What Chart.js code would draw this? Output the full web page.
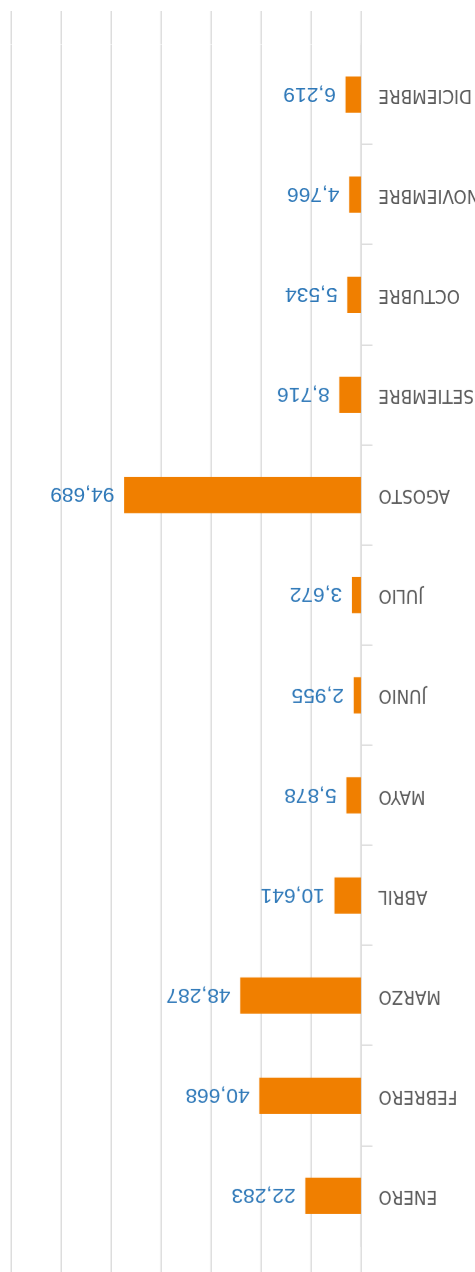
<!DOCTYPE html>
<html lang="es">
<head>
<meta charset="utf-8">
<title>Ventas mensuales</title>
<script src="https://cdn.jsdelivr.net/npm/chart.js@4/dist/chart.umd.min.js"></script>
<style>
  html, body { margin: 0; padding: 0; background: #ffffff; }
  #wrap {
    width: 475px;
    height: 1272px;
    transform: rotate(180deg);
    transform-origin: 50% 50%;
  }
  canvas { display: block; }
</style>
</head>
<body>
<div id="wrap"><canvas id="chart" width="475" height="1272"></canvas></div>
<script>
// Months shown on the category axis
const meses = ['ENERO', 'FEBRERO', 'MARZO', 'ABRIL', 'MAYO', 'JUNIO',
               'JULIO', 'AGOSTO', 'SETIEMBRE', 'OCTUBRE', 'NOVIEMBRE', 'DICIEMBRE'];
// Monthly totals
const valores = [22283, 40668, 48287, 10641, 5878, 2955,
                 3672, 94689, 8716, 5534, 4766, 6219];
// Value axis range and gridline step
const ejeMin = 0;
const ejeMax = 140000;
const ejePaso = 20000;

const GRID = '#dddddd';
const BAR = '#f07f00';
const LABEL_GRAY = '#595959';
const VALUE_BLUE = '#2e78b8';
const CAT_FONT = '"Liberation Sans Narrow", "Arial Narrow", "DejaVu Sans Condensed", sans-serif';
const VAL_FONT = '"Liberation Sans", Arial, sans-serif';

const fmt = v => v.toLocaleString('en-US');

// Writes each bar's value just past its end
const valueLabels = {
  id: 'valueLabels',
  afterDatasetsDraw(chart) {
    const { ctx } = chart;
    const meta = chart.getDatasetMeta(0);
    const data = chart.data.datasets[0].data;
    ctx.save();
    ctx.font = '21px ' + VAL_FONT;
    ctx.fillStyle = VALUE_BLUE;
    ctx.textAlign = 'left';
    ctx.textBaseline = 'middle';
    meta.data.forEach((bar, i) => {
      ctx.fillText(fmt(data[i]), bar.x + 10, bar.y + 1);
    });
    ctx.restore();
  }
};

new Chart(document.getElementById('chart'), {
  type: 'bar',
  data: {
    labels: meses,
    datasets: [{
      data: valores,
      backgroundColor: BAR,
      borderWidth: 0,
      barThickness: 35.5,
      xAxisID: 'x',
      yAxisID: 'y'
    }]
  },
  options: {
    indexAxis: 'y',
    responsive: false,
    animation: false,
    devicePixelRatio: 1,
    layout: { padding: { top: 0, right: 11, bottom: 11, left: 0 } },
    plugins: {
      legend: { display: false },
      tooltip: { enabled: false },
      title: { display: false }
    },
    scales: {
      x: {
        position: 'top',
        min: ejeMin,
        max: ejeMax,
        ticks: { stepSize: ejePaso, display: false },
        grid: { color: GRID, lineWidth: 1.5, drawTicks: true, tickLength: 26 },
        border: { display: false },
        afterFit: s => { s.height = 26; }
      },
      x2: {
        position: 'bottom',
        min: ejeMin,
        max: ejeMax,
        ticks: { stepSize: ejePaso, display: false },
        grid: { color: GRID, lineWidth: 1.5, drawOnChartArea: false, drawTicks: true, tickLength: 33.5 },
        border: { display: false },
        afterFit: s => { s.height = 33.5; }
      },
      y: {
        type: 'category',
        position: 'left',
        offset: true,
        grid: {
          offset: true,
          drawOnChartArea: false,
          drawTicks: true,
          tickLength: 11,
          lineWidth: 1.5,
          color: c => (c.index === undefined || c.index === 0) ? 'rgba(0,0,0,0)' : GRID
        },
        border: { display: true, color: GRID, width: 1.5 },
        ticks: {
          color: LABEL_GRAY,
          padding: 6,
          font: { family: CAT_FONT, size: 18.7 }
        },
        afterFit: s => { s.width = 113.5; }
      }
    }
  },
  plugins: [valueLabels]
});
</script>
</body>
</html>
